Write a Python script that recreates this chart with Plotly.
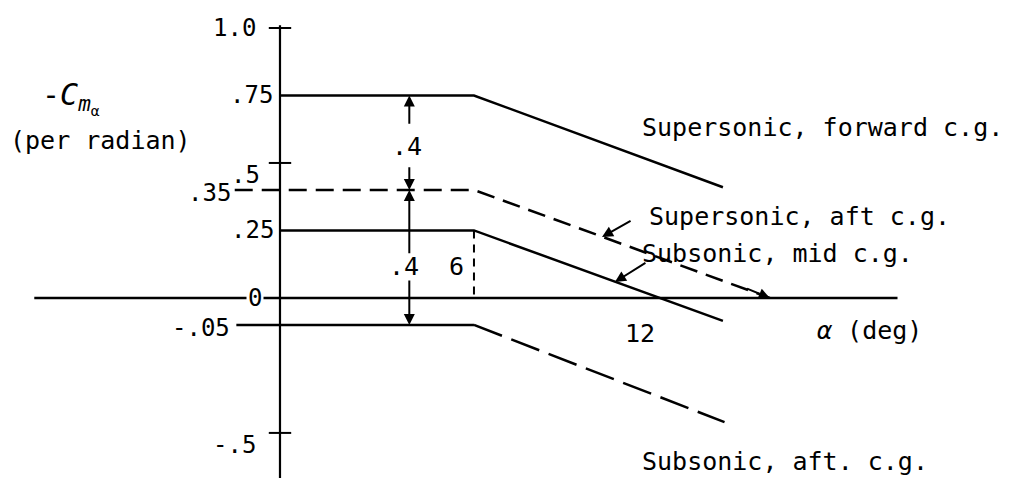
import plotly.graph_objects as go

# schematic levels (positions as drawn) and sloped end points
alpha_flat = [0, 6]
fwd_level, fwd_end = 0.75, (13.7, 0.41)
sup_aft_start, sup_aft_level, sup_aft_end = -1.4, 0.40, (15.15, 0.0)
mid_level, mid_end = 0.25, (13.7, -0.085)
sub_aft_start, sub_aft_level, sub_aft_end = -1.35, -0.10, (13.75, -0.46)

tick_vals = [1.0, 0.75, 0.455, 0.39, 0.25, -0.11, -0.545]
tick_text = ["1.0", ".75", ".5", ".35", ".25", "-.05", "-.5"]
tick_right = [-0.68, -0.15, -0.56, -1.45, -0.12, -1.5, -0.68]
cross_ticks = [1.0, 0.5, -0.5]

FONT = "DejaVu Sans Mono"
fig = go.Figure()


def line(x, y, dash="solid", width=2.5):
    fig.add_trace(go.Scatter(x=x, y=y, mode="lines", hoverinfo="skip",
                             line=dict(color="black", width=width, dash=dash)))


# axes
line([0, 0], [1.01, -0.67], width=2.2)
line([-7.6, 19.1], [0, 0], width=2.5)
fig.add_trace(go.Scatter(x=[0] * len(cross_ticks), y=cross_ticks, mode="markers",
                         hoverinfo="skip",
                         marker=dict(symbol="line-ew-open", size=16, color="black",
                                     line=dict(color="black", width=2))))

# curves
line([alpha_flat[0], alpha_flat[1], fwd_end[0]], [fwd_level, fwd_level, fwd_end[1]])
line([sup_aft_start, alpha_flat[1], sup_aft_end[0]],
     [sup_aft_level, sup_aft_level, sup_aft_end[1]], dash="18px,9px")
line([alpha_flat[0], alpha_flat[1], mid_end[0]], [mid_level, mid_level, mid_end[1]])
line([sub_aft_start, alpha_flat[1]], [sub_aft_level, sub_aft_level])
line([alpha_flat[1], sub_aft_end[0]], [sub_aft_level, sub_aft_end[1]], dash="30px,10px")
line([6, 6], [mid_level, 0], dash="8px,6px", width=2)

ann = []


def text(x, y, s, xanchor="center", size=24, bg=None):
    d = dict(x=x, y=y, text=s, showarrow=False, xanchor=xanchor, yanchor="middle",
             font=dict(family=FONT, size=size, color="black"))
    if bg:
        d["bgcolor"] = bg
    ann.append(d)


def arrow(x, y, ax, ay):
    ann.append(dict(x=x, y=y, ax=ax, ay=ay, axref="x", ayref="y", text="",
                    showarrow=True, arrowhead=2, arrowsize=1.1, arrowwidth=2,
                    arrowcolor="black"))


for v, t, r in zip(tick_vals, tick_text, tick_right):
    text(r, v, t, xanchor="right", size=24)
text(-0.78, 0, "0", size=24, bg="white")

# dimension arrows
arrow(4, fwd_level, 4, 0.64)
arrow(4, sup_aft_level, 4, 0.49)
arrow(4, sup_aft_level, 4, 0.16)
arrow(4, sub_aft_level, 4, 0.07)
text(3.93, 0.56, ".4", size=25)
text(3.84, 0.115, ".4", size=25)
text(5.47, 0.115, "6", size=25)
text(11.14, -0.13, "12", size=25)

# curve labels
text(11.14, 0.633, "Supersonic, forward c.g.", xanchor="left", size=25)
text(11.35, 0.30, "Supersonic, aft c.g.", xanchor="left", size=25)
text(11.14, 0.163, "Subsonic, mid c.g.", xanchor="left", size=25)
text(11.14, -0.607, "Subsonic, aft. c.g.", xanchor="left", size=25)
text(16.55, -0.119, "<i>α</i> (deg)", xanchor="left", size=25)
arrow(9.96, 0.226, 10.89, 0.289)
arrow(10.36, 0.059, 11.35, 0.133)
arrow(sup_aft_end[0], sup_aft_end[1], 14.4, 0.037)

text(-6.46, 0.74, "-<i>C</i><sub><i>m</i><sub>α</sub></sub>", size=30)
text(-5.54, 0.585, "(per radian)", size=25)

# page has an 8px body margin: size and ranges compensate for it
fig.update_layout(
    width=1013, height=470, margin=dict(l=0, r=0, t=0, b=0),
    paper_bgcolor="white", plot_bgcolor="white", showlegend=False,
    xaxis=dict(range=[-8.413, 22.92], visible=False, fixedrange=True),
    yaxis=dict(range=[-0.667, 1.074], visible=False, fixedrange=True),
    annotations=ann,
)

fig.write_html("out.html")
